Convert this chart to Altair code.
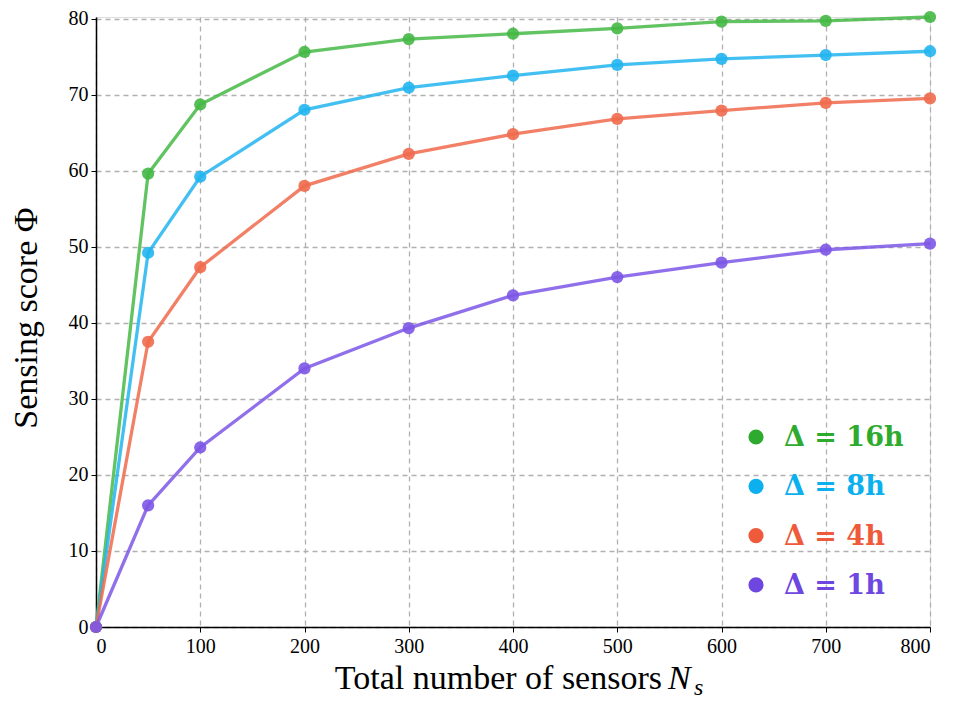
import altair as alt
import pandas as pd

sensors = [0, 50, 100, 200, 300, 400, 500, 600, 700, 800]
series_names = ["Δ = 16h", "Δ = 8h", "Δ = 4h", "Δ = 1h"]
score_16h = [0, 59.6, 68.7, 75.6, 77.3, 78.0, 78.7, 79.6, 79.7, 80.2]
score_8h = [0, 49.2, 59.2, 68.0, 70.9, 72.5, 73.9, 74.7, 75.2, 75.7]
score_4h = [0, 37.5, 47.3, 58.0, 62.2, 64.8, 66.8, 67.9, 68.9, 69.5]
score_1h = [0, 16.0, 23.6, 34.0, 39.3, 43.6, 46.0, 47.9, 49.6, 50.4]
line_colors = ["#45b845", "#22b5ef", "#f06a4c", "#7c56e6"]
legend_colors = ["#2eaa2e", "#0cb0ee", "#ee5a3a", "#6e46e0"]
x_ticks = [0, 100, 200, 300, 400, 500, 600, 700, 800]
y_ticks = [0, 10, 20, 30, 40, 50, 60, 70, 80]

rows = []
for name, vals in zip(series_names, [score_16h, score_8h, score_4h, score_1h]):
    for x, v in zip(sensors, vals):
        rows.append({"series": name, "N": x, "score": v})
df = pd.DataFrame(rows)

W, H = 834, 610
TOP = 9
OFF = 8 + TOP  # page y of plot top
serif = "Liberation Serif"

xenc = alt.X("N:Q", scale=alt.Scale(domain=[0, 800], nice=False),
             axis=alt.Axis(values=x_ticks, title=None, grid=True, gridDash=[5, 4],
                           gridColor="#b0b0b0", gridWidth=1.3, labelFont=serif,
                           labelFontSize=20, labelColor="#000", tickColor="#000",
                           tickSize=5, labelPadding=4, domainColor="#000", domainWidth=1.5))
yenc = alt.Y("score:Q", scale=alt.Scale(domain=[0, 80.2], nice=False),
             axis=alt.Axis(values=y_ticks, title=None, grid=True, gridDash=[5, 4],
                           gridColor="#b0b0b0", gridWidth=1.3, labelFont=serif,
                           labelFontSize=20, labelColor="#000", tickColor="#000",
                           tickSize=5, labelPadding=3, domainColor="#000", domainWidth=1.5))
color = alt.Color("series:N", scale=alt.Scale(domain=series_names, range=line_colors), legend=None)

base = alt.Chart(df)
lines = base.mark_line(strokeWidth=3.3, opacity=0.85).encode(x=xenc, y=yenc, color=color, detail="series:N")
points = base.mark_point(filled=True, size=150, opacity=0.9, clip=False).encode(
    x="N:Q", y="score:Q", color=color)

layers = [lines, points]

# custom legend (decoration, placed in pixels inside the plot)
for i, (name, col) in enumerate(zip(series_names, legend_colors)):
    yy = 437 - OFF + i * 49.3
    d = alt.Chart(pd.DataFrame({"label": [name]}))
    layers.append(d.mark_point(filled=True, size=230, opacity=1, color=col).encode(
        x=alt.value(660), y=alt.value(yy)))
    layers.append(d.mark_text(font="DejaVu Serif", fontWeight="bold", fontSize=27, color=col,
                              align="left", baseline="middle").encode(
        x=alt.value(688), y=alt.value(yy + 1), text="label:N"))

# axis titles
tb = 689 - OFF
t = alt.Chart(pd.DataFrame({"t": ["Total number of sensors"]}))
layers.append(t.mark_text(font=serif, fontSize=34, color="#000", align="right",
                          baseline="alphabetic").encode(x=alt.value(566), y=alt.value(tb), text="t:N"))
n = alt.Chart(pd.DataFrame({"t": ["N"]}))
layers.append(n.mark_text(font=serif, fontSize=34, fontStyle="italic", color="#000", align="left",
                          baseline="alphabetic").encode(x=alt.value(572), y=alt.value(tb), text="t:N"))
s = alt.Chart(pd.DataFrame({"t": ["s"]}))
layers.append(s.mark_text(font=serif, fontSize=24, fontStyle="italic", color="#000", align="left",
                          baseline="alphabetic").encode(x=alt.value(598), y=alt.value(tb + 6), text="t:N"))
yt = alt.Chart(pd.DataFrame({"t": ["Sensing score Φ"]}))
layers.append(yt.mark_text(font=serif, fontSize=34, color="#000", align="center", angle=270,
                           baseline="middle").encode(x=alt.value(-69), y=alt.value(318 - OFF), text="t:N"))

chart = alt.layer(*layers).properties(
    width=W, height=H,
    autosize=alt.AutoSizeParams(type="none"),
    padding={"left": 88, "top": TOP, "right": 15, "bottom": 72},
).configure_view(stroke="#222", strokeWidth=2).configure(background="white")

chart.save("out.html", embed_options={"renderer": "svg", "actions": False})
